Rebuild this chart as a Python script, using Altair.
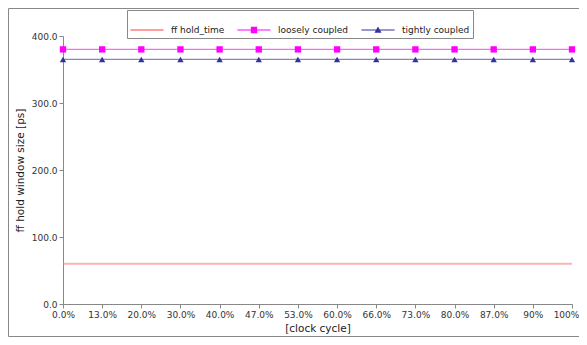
import altair as alt
import pandas as pd

x_labels = ["0.0%", "13.0%", "20.0%", "30.0%", "40.0%", "47.0%", "53.0%",
            "60.0%", "66.0%", "73.0%", "80.0%", "87.0%", "90%", "100%"]
series_names = ["ff hold_time", "loosely coupled", "tightly coupled"]
ff_hold_time = [60, 60, 60, 60, 60, 60, 60, 60, 60, 60, 60, 60, 60, 60]
loosely_coupled = [380, 380, 380, 380, 380, 380, 380, 380, 380, 380, 380, 380, 380, 380]
tightly_coupled = [365, 365, 365, 365, 365, 365, 365, 365, 365, 365, 365, 365, 365, 365]
colors = ["#FF7F7F", "#FF00FF", "#333399"]
legend_paths = [
    "M-1,-0.04H1V0.04H-1Z",
    "M-1,-0.03H1V0.03H-1Z M-0.19,-0.19H0.19V0.19H-0.19Z",
    "M-1,-0.03H1V0.03H-1Z M0,-0.21L0.21,0.17H-0.21Z",
]

rows = []
for name, vals in zip(series_names, [ff_hold_time, loosely_coupled, tightly_coupled]):
    for lab, v in zip(x_labels, vals):
        rows.append({"cycle": lab, "series": name, "value": v})
df = pd.DataFrame(rows)

W, H = 509, 268
PAD = {"left": 55, "top": 28, "right": 7, "bottom": 33}

x_enc = alt.X("cycle:N", sort=x_labels,
              scale=alt.Scale(type="point", padding=0),
              axis=alt.Axis(title="[clock cycle]", labelAngle=0, titlePadding=4,
                            labelOffset=alt.condition(f"datum.value == '{x_labels[-1]}'",
                                                      alt.value(-6), alt.value(0))))
y_enc = alt.Y("value:Q", scale=alt.Scale(domain=[0, 400], nice=False),
              axis=alt.Axis(title="ff hold window size [ps]", format=".1f",
                            values=[0, 100, 200, 300, 400], titlePadding=6))

base = alt.Chart(df).encode(x=x_enc, y=y_enc)


def only(name):
    return alt.datum.series == name


ff_line = base.transform_filter(only(series_names[0])).mark_line(
    strokeWidth=2, opacity=0.6, color=colors[0])
loose_line = base.transform_filter(only(series_names[1])).mark_line(
    strokeWidth=1.2, opacity=0.6, color=colors[1])
tight_line = base.transform_filter(only(series_names[2])).mark_line(
    strokeWidth=1.2, opacity=0.6, color=colors[2])
squares = base.transform_filter(only(series_names[1])).mark_point(
    shape="square", filled=True, opacity=1, size=40, color=colors[1])
triangles = base.transform_filter(only(series_names[2])).mark_point(
    shape="triangle-up", filled=True, opacity=1, size=40, color=colors[2])

legend_props = dict(title=None, orient="none", direction="horizontal",
                    legendX=64, legendY=-26,
                    strokeColor="#888888", fillColor="white",
                    padding=3, labelFontSize=9, labelFont="DejaVu Sans",
                    labelColor="#222222", symbolSize=1100,
                    labelOffset=7, columnPadding=12, symbolStrokeWidth=0)

legend_layer = base.transform_filter("false").mark_point(
    filled=True, opacity=1, size=1100).encode(
    color=alt.Color("series:N", scale=alt.Scale(domain=series_names, range=colors),
                    legend=alt.Legend(**legend_props)),
    shape=alt.Shape("series:N", scale=alt.Scale(domain=series_names, range=legend_paths),
                    legend=alt.Legend(**legend_props)),
)

frame_src = alt.Chart(alt.Data(values=[{}]))
L = -PAD["left"] + 0.5
T = -PAD["top"] + 0.5
B = H + PAD["bottom"] - 0.5
R = W + PAD["right"]
frame_left = frame_src.mark_rule(color="#888888", strokeWidth=1).encode(
    x=alt.value(L), y=alt.value(T), y2=alt.value(B))
frame_top = frame_src.mark_rule(color="#888888", strokeWidth=1).encode(
    x=alt.value(L), x2=alt.value(R), y=alt.value(T))
frame_bottom = frame_src.mark_rule(color="#888888", strokeWidth=1).encode(
    x=alt.value(L), x2=alt.value(R), y=alt.value(B))

chart = alt.layer(frame_left, frame_top, frame_bottom,
                  ff_line, loose_line, tight_line, squares, triangles,
                  legend_layer).properties(
    width=W, height=H,
    autosize=alt.AutoSizeParams(type="none"),
    padding=PAD,
).configure_view(stroke="transparent").configure_axis(
    labelFont="DejaVu Sans", labelFontSize=9, labelColor="#333333",
    titleFont="DejaVu Sans", titleFontSize=10.5, titleFontWeight="normal", titleColor="#222222",
    grid=False, domainColor="#888888", tickColor="#888888", tickSize=4, labelPadding=2,
)

chart.save("out.html", embed_options={"renderer": "svg", "actions": False})
